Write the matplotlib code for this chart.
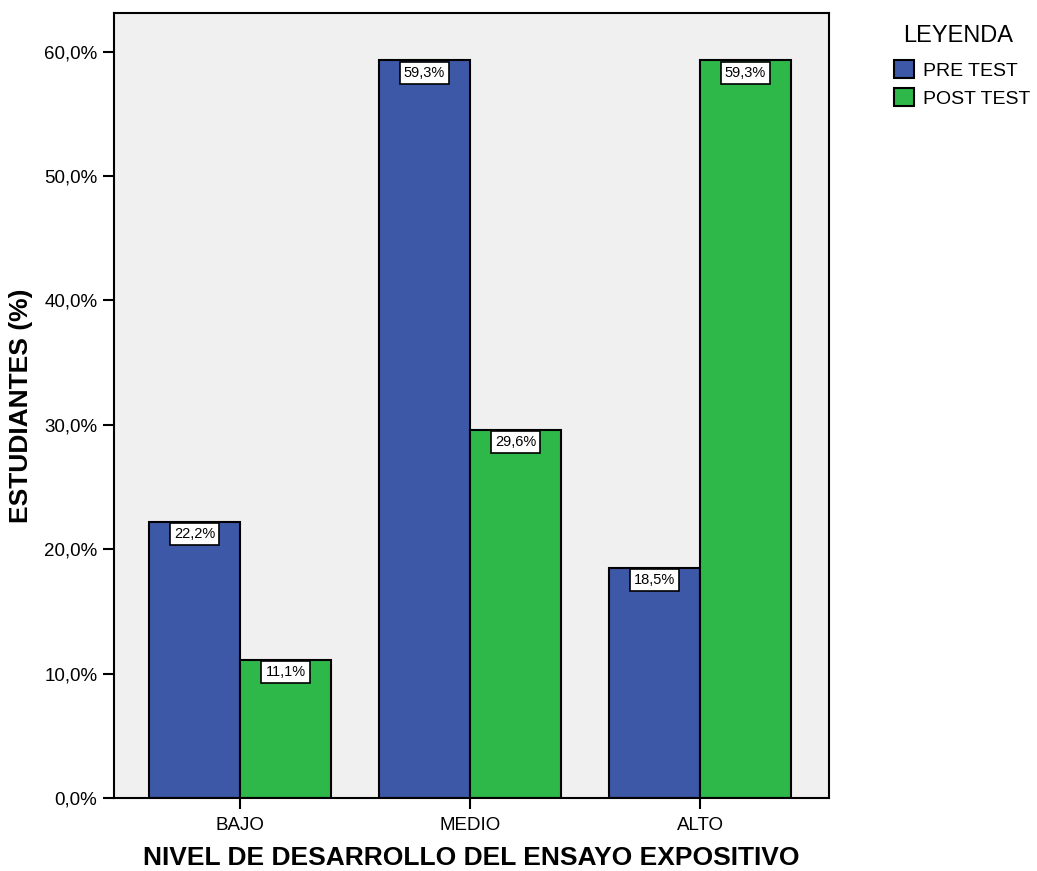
import numpy as np
import matplotlib
matplotlib.use("Agg")
from matplotlib import pyplot as plt
from matplotlib.patches import Patch

plt.rcParams['font.family'] = ['Liberation Sans', 'DejaVu Sans']

categories = ["BAJO", "MEDIO", "ALTO"]
pre_test = [22.2, 59.3, 18.5]
post_test = [11.1, 29.6, 59.3]
series_names = ["PRE TEST", "POST TEST"]
yticks = [0, 10, 20, 30, 40, 50, 60]

blue = '#3E58A8'
green = '#2FB84A'

fig = plt.figure(figsize=(10.37, 8.71), dpi=100)
ax = fig.add_axes([114/1037, 1 - 798/871, (829-114)/1037, (798-13)/871])
ax.set_facecolor('#F0F0F0')

x = np.arange(len(categories))
w = 0.396
b1 = ax.bar(x - w/2, pre_test, w, color=blue, edgecolor='black', linewidth=1.5)
b2 = ax.bar(x + w/2, post_test, w, color=green, edgecolor='black', linewidth=1.5)

for bars, vals in [(b1, pre_test), (b2, post_test)]:
    for r, v in zip(bars, vals):
        ax.annotate(f"{v:.1f}%".replace('.', ','),
                    (r.get_x() + r.get_width()/2, v),
                    xytext=(0, -9), textcoords='offset points',
                    ha='center', va='center', fontsize=10.5,
                    bbox=dict(boxstyle='square,pad=0.28', fc='white', ec='black', lw=1.2))

ax.set_xlim(-0.548, 2.561)
ax.set_ylim(0, 63.1)
ax.set_yticks(yticks)
ax.set_yticklabels([f"{t:.1f}%".replace('.', ',') for t in yticks], fontsize=13.5)
ax.set_xticks(x)
ax.set_xticklabels(categories, fontsize=13.5)
ax.tick_params(axis='both', direction='out', length=8, width=1.5, color='black', pad=4)
ax.tick_params(axis='x', pad=6)
for s in ax.spines.values():
    s.set_linewidth(1.5)

ax.set_xlabel("NIVEL DE DESARROLLO DEL ENSAYO EXPOSITIVO", fontsize=19, fontweight='bold', labelpad=8)
ax.set_ylabel("ESTUDIANTES (%)", fontsize=19, fontweight='bold', labelpad=8)

# legend title drawn separately so the gap matches
fig.text(958/1037, 1 - 36/871, "LEYENDA", fontsize=17, ha='center', va='center')
handles = [Patch(facecolor=blue, edgecolor='black', lw=1.5),
           Patch(facecolor=green, edgecolor='black', lw=1.5)]
leg = fig.legend(handles, series_names, loc='upper left',
                 bbox_to_anchor=(894/1037, 1 - 60/871), frameon=False,
                 borderpad=0, borderaxespad=0,
                 fontsize=14, handlelength=1.05, handleheight=1.05,
                 handletextpad=0.45, labelspacing=0.45)

fig.savefig("out.png", dpi=100)
